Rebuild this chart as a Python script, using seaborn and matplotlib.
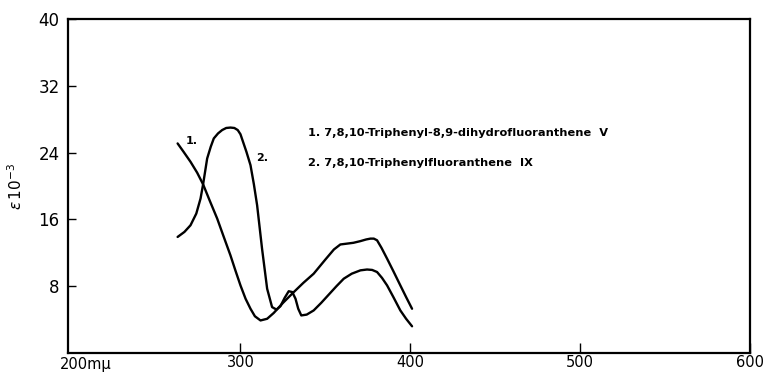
import matplotlib
matplotlib.use("Agg")
import matplotlib.pyplot as plt
import seaborn as sns
import pandas as pd

# Curve 1: 7,8,10-Triphenyl-8,9-dihydrofluoranthene V
wl1 = [263, 266.5, 270.6, 274.5, 278, 282, 286.3, 290, 294.1, 297, 300, 303, 305.9,
       308.5, 311.8, 315.7, 319.6, 325, 331.4, 337, 343.1, 350, 355, 358.8, 362.7,
       366.5, 370.6, 374, 376.5, 378.5, 380.4, 383, 386.3, 390, 394.1, 397.5, 401]
eps1 = [25.1, 24.1, 22.9, 21.6, 20.2, 18.2, 16.1, 14.0, 11.7, 9.9, 8.1, 6.5, 5.3,
        4.4, 3.9, 4.1, 4.8, 6.0, 7.3, 8.4, 9.5, 11.2, 12.4, 13.0, 13.1,
        13.2, 13.4, 13.6, 13.7, 13.7, 13.5, 12.6, 11.3, 9.8, 8.1, 6.7, 5.3]

# Curve 2: 7,8,10-Triphenylfluoranthene IX
wl2 = [263, 267, 270.6, 274, 276.5, 278, 280.4, 282.5, 284.3, 286.8, 289.2, 291.6,
       294.1, 296.4, 298.4, 300, 301.5, 303.5, 305.9, 307.9, 309.8, 312.7, 315.7,
       318.6, 321.2, 323.5, 326, 328.4, 330.5, 332.4, 334, 335.8, 339, 343.1,
       347.5, 352, 356.5, 360.8, 365.5, 370.6, 374.5, 377.5, 380.4, 383.3, 386.3,
       390, 394.1, 397.5, 401]
eps2 = [13.9, 14.5, 15.3, 16.7, 18.5, 20.2, 23.3, 24.7, 25.7, 26.3, 26.7, 26.95,
        27.0, 26.95, 26.7, 26.2, 25.3, 24.1, 22.5, 20.2, 17.7, 12.5, 7.7,
        5.5, 5.2, 5.6, 6.6, 7.4, 7.3, 6.5, 5.3, 4.5, 4.6, 5.1,
        6.0, 7.0, 8.0, 8.9, 9.5, 9.9, 10.0, 9.95, 9.7, 9.0, 8.1,
        6.7, 5.1, 4.1, 3.2]

x_ticks = [300, 400, 500, 600]
y_ticks = [8, 16, 24, 32, 40]
legend_lines = ["1. 7,8,10-Triphenyl-8,9-dihydrofluoranthene  V",
                "2. 7,8,10-Triphenylfluoranthene  IX"]

df = pd.concat([
    pd.DataFrame({"wl": wl1, "eps": eps1, "curve": "1"}),
    pd.DataFrame({"wl": wl2, "eps": eps2, "curve": "2"}),
])

sns.set_style("white")
plt.rcParams["font.family"] = ["DejaVu Sans"]
plt.rcParams["text.color"] = "black"
plt.rcParams["axes.labelcolor"] = "black"
plt.rcParams["xtick.color"] = "black"
plt.rcParams["ytick.color"] = "black"

fig = plt.figure(figsize=(7.67, 3.73), dpi=100)
ax = fig.add_axes([0.0887, 0.0536, 0.8893, 0.8954])

sns.lineplot(data=df, x="wl", y="eps", units="curve", estimator=None,
             sort=False, color="black", linewidth=1.7, ax=ax)

ax.set_xlim(198.5, 600)
ax.set_ylim(0, 40)
ax.set_xticks(x_ticks)
ax.set_xticklabels([str(v) for v in x_ticks], fontsize=10.5)
ax.set_yticks(y_ticks)
ax.set_yticklabels([str(v) for v in y_ticks], fontsize=12)
ax.tick_params(axis="x", direction="in", length=7, width=1, pad=1.5, colors="black")
ax.tick_params(axis="y", direction="in", length=6, width=1, pad=6, colors="black")
ax.tick_params(axis="y", which="major", left=True)
ax.tick_params(axis="x", which="major", bottom=True)
for s in ax.spines.values():
    s.set_visible(True)
    s.set_color("black")
    s.set_linewidth(1.6)

ax.set_xlabel("")
ax.set_ylabel(r"$\epsilon\,$10$^{-3}$", fontsize=11, labelpad=10, color="black")
ax.text(-0.012, -0.012, "200m\u03bc", transform=ax.transAxes, ha="left", va="top",
        fontsize=10.5, color="black")

ax.text(268, 25.4, "1.", fontsize=8, fontweight="bold", ha="left", va="center", color="black")
ax.text(309.5, 23.3, "2.", fontsize=8, fontweight="bold", ha="left", va="center", color="black")
ax.text(339.5, 26.3, legend_lines[0], fontsize=8.2, fontweight="bold", ha="left",
        va="center", color="black")
ax.text(339.5, 22.7, legend_lines[1], fontsize=8.2, fontweight="bold", ha="left",
        va="center", color="black")

fig.savefig("out.png", dpi=100)
